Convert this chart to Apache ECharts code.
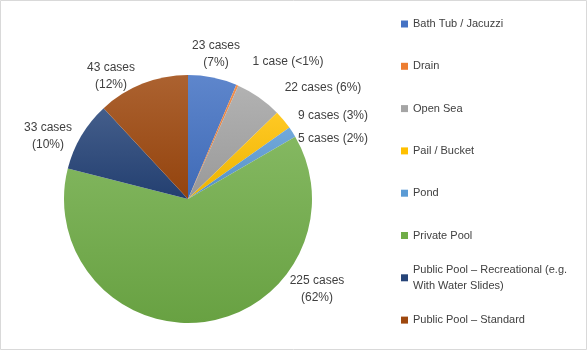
<!DOCTYPE html>
<html>
<head>
<meta charset="utf-8">
<script src="https://cdn.jsdelivr.net/npm/echarts@6/dist/echarts.min.js"></script>
<style>
  html, body { margin: 0; padding: 0; background: #fff; }
  #chart { width: 587px; height: 350px; }
</style>
</head>
<body>
<div id="chart"></div>
<script>
// Drowning cases by location
const categories = [
  'Bath Tub / Jacuzzi',
  'Drain',
  'Open Sea',
  'Pail / Bucket',
  'Pond',
  'Private Pool',
  'Public Pool – Recreational (e.g.\nWith Water Slides)',
  'Public Pool – Standard'
];
const caseCounts = [23, 1, 22, 9, 5, 225, 33, 43];
const percentLabels = ['7%', '<1%', '6%', '3%', '2%', '62%', '10%', '12%'];

// Office palette
const baseColors = ['#4472C4', '#ED7D31', '#A5A5A5', '#FFC000', '#5B9BD5', '#70AD47', '#264478', '#9E480E'];

// Label placement around the pie (offset from centre, px) and line breaking
const labelOffsets = [[28, -145], [100, -137], [135, -111], [145, -83], [145, -60], [129, 90], [-140, -63], [-77, -123]];
const labelTwoLine = [true, false, false, false, false, true, true, true];

const CX = 188, CY = 199, R = 124;
const TEXT = '#404040';
const FONT = 'Liberation Sans, Arial, sans-serif';

function mix(hex, target, t) {
  const n = parseInt(hex.slice(1), 16);
  const c = [(n >> 16) & 255, (n >> 8) & 255, n & 255];
  return 'rgb(' + c.map(v => Math.round(v + (target - v) * t)).join(',') + ')';
}

// Each slice shades from a light tint at its top to a slightly deeper tone at its bottom
function gradientFor(hex) {
  return new echarts.graphic.LinearGradient(0, 0, 0, 1, [
    { offset: 0, color: mix(hex, 255, 0.14) },
    { offset: 1, color: mix(hex, 0, 0.07) }
  ]);
}

const pieData = categories.map((name, i) => ({
  name: name,
  value: caseCounts[i],
  itemStyle: { color: gradientFor(baseColors[i]) }
}));

function labelText(i) {
  const n = caseCounts[i];
  const head = n + (n === 1 ? ' case' : ' cases');
  const tail = '(' + percentLabels[i] + ')';
  return labelTwoLine[i] ? head + '\n' + tail : head + ' ' + tail;
}

// One legend block per entry so the rows keep an even pitch
const LEG_TOP = 24, LEG_STEP = 42.3;
const legends = categories.map((name, i) => {
  const multi = name.indexOf('\n') >= 0;
  const lineY = LEG_TOP + i * LEG_STEP;
  return {
    orient: 'vertical',
    left: 401,
    top: multi ? lineY - 24 : lineY - 8,
    padding: 0,
    itemWidth: 7,
    itemHeight: 7,
    icon: 'rect',
    selectedMode: false,
    data: [{ name: name, itemStyle: { color: baseColors[i] } }],
    textStyle: {
      fontFamily: FONT,
      fontSize: 11,
      color: TEXT,
      lineHeight: 16,
      padding: multi ? [16, 0, 0, 0] : 0
    }
  };
});

const chart = echarts.init(document.getElementById('chart'), null, { renderer: 'canvas' });
chart.setOption({
  animation: false,
  backgroundColor: '#ffffff',
  graphic: [{
    type: 'rect',
    shape: { x: 0.5, y: 0.5, width: 586, height: 349 },
    style: { fill: 'none', stroke: '#D9D9D9', lineWidth: 1 },
    silent: true
  }],
  legend: legends,
  series: [{
    type: 'pie',
    center: [CX, CY],
    radius: R,
    startAngle: 90,
    clockwise: true,
    avoidLabelOverlap: false,
    itemStyle: { borderWidth: 0 },
    emphasis: { disabled: true },
    label: {
      show: true,
      position: 'outside',
      fontFamily: FONT,
      fontSize: 12,
      lineHeight: 17.5,
      color: TEXT,
      formatter: p => labelText(p.dataIndex)
    },
    labelLine: { show: false },
    labelLayout: p => ({
      x: CX + labelOffsets[p.dataIndex][0],
      y: CY + labelOffsets[p.dataIndex][1],
      align: 'center',
      verticalAlign: 'middle'
    }),
    data: pieData
  }]
});
</script>
</body>
</html>
